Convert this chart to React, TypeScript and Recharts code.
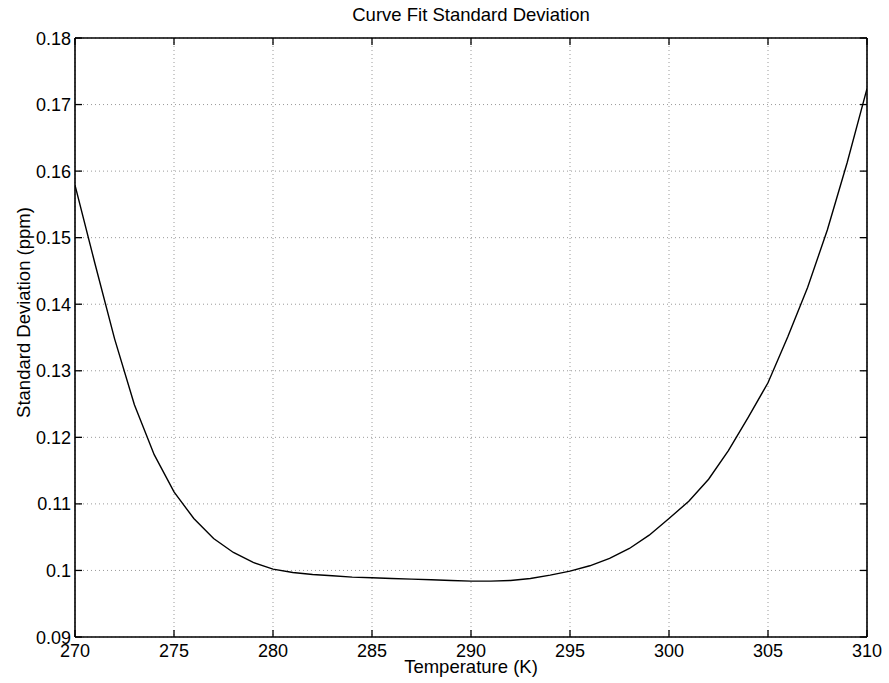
import React from "react";
import { LineChart, Line, XAxis, YAxis, CartesianGrid, ReferenceLine } from "recharts";

const temperatures = [
  270, 271, 272, 273, 274, 275, 276, 277, 278, 279,
  280, 281, 282, 283, 284, 285, 286, 287, 288, 289,
  290, 291, 292, 293, 294, 295, 296, 297, 298, 299,
  300, 301, 302, 303, 304, 305, 306, 307, 308, 309, 310,
];

const stdDev = [
  0.1579, 0.1462, 0.1348, 0.1249, 0.1174, 0.1118, 0.1078, 0.1048, 0.1027, 0.1012,
  0.1002, 0.0997, 0.0994, 0.0992, 0.099, 0.0989, 0.0988, 0.0987, 0.0986, 0.0985,
  0.0984, 0.0984, 0.0985, 0.0988, 0.0993, 0.0999, 0.1007, 0.1018, 0.1033, 0.1053,
  0.1078, 0.1104, 0.1137, 0.118, 0.123, 0.1282, 0.1351, 0.1425, 0.1512, 0.1613, 0.1724,
];

const xTicks = [270, 275, 280, 285, 290, 295, 300, 305, 310];
const xTickLabels = ["270", "275", "280", "285", "290", "295", "300", "305", "310"];
const yTicks = [0.09, 0.1, 0.11, 0.12, 0.13, 0.14, 0.15, 0.16, 0.17, 0.18];
const yTickLabels = ["0.09", "0.1", "0.11", "0.12", "0.13", "0.14", "0.15", "0.16", "0.17", "0.18"];

const title = "Curve Fit Standard Deviation";
const xLabel = "Temperature (K)";
const yLabel = "Standard Deviation (ppm)";

const data = temperatures.map((t, i) => ({ t, sd: stdDev[i] }));

const CHART_W = 889;
const CHART_H = 683;
const MARGIN = { top: 38, right: 22, bottom: 16, left: 15 };
const PLOT_TOP = MARGIN.top;
const PLOT_RIGHT = CHART_W - MARGIN.right;

const FONT = "'Liberation Sans', Arial, Helvetica, sans-serif";
const TICK_LEN = 7;

const LeftTick = (props: any) => {
  const { x, y, payload } = props;
  const ax = x + 4;
  const idx = yTicks.indexOf(payload.value);
  return (
    <g>
      <line x1={ax} y1={y} x2={ax + TICK_LEN} y2={y} stroke="#000" strokeWidth={1.3} />
      <line x1={PLOT_RIGHT} y1={y} x2={PLOT_RIGHT - TICK_LEN} y2={y} stroke="#000" strokeWidth={1.3} />
      <text x={x} y={y} dy={6.5} textAnchor="end" fontSize={18} fontFamily={FONT} fill="#000">
        {idx >= 0 ? yTickLabels[idx] : String(payload.value)}
      </text>
    </g>
  );
};

const BottomTick = (props: any) => {
  const { x, y, payload } = props;
  const ay = y - 2;
  const idx = xTicks.indexOf(payload.value);
  return (
    <g>
      <line x1={x} y1={ay} x2={x} y2={ay - TICK_LEN} stroke="#000" strokeWidth={1.3} />
      <line x1={x} y1={PLOT_TOP} x2={x} y2={PLOT_TOP + TICK_LEN} stroke="#000" strokeWidth={1.3} />
      <text x={x} y={ay + 20} textAnchor="middle" fontSize={18} fontFamily={FONT} fill="#000">
        {idx >= 0 ? xTickLabels[idx] : String(payload.value)}
      </text>
    </g>
  );
};

const XLabel = (props: any) => {
  const vb = props.viewBox;
  return (
    <text x={vb.x + vb.width / 2} y={vb.y + 36} textAnchor="middle" fontSize={18.5} fontFamily={FONT} fill="#000">
      {xLabel}
    </text>
  );
};

const YLabel = (props: any) => {
  const vb = props.viewBox;
  const cx = vb.x + 15;
  const cy = vb.y + vb.height / 2 - 25;
  return (
    <text x={cx} y={cy} transform={`rotate(-90, ${cx}, ${cy})`} textAnchor="middle" fontSize={18.5} fontFamily={FONT} fill="#000">
      {yLabel}
    </text>
  );
};

const TitleLabel = (props: any) => {
  const vb = props.viewBox;
  return (
    <text x={vb.x + vb.width / 2} y={vb.y - 17} textAnchor="middle" fontSize={18.5} fontFamily={FONT} fill="#000">
      {title}
    </text>
  );
};

export default function App() {
  return (
    <div style={{ position: "absolute", left: 0, top: 0, width: CHART_W, height: CHART_H, background: "#fff" }}>
      <LineChart width={CHART_W} height={CHART_H} data={data} margin={MARGIN}>
        <CartesianGrid stroke="#9a9a9a" strokeDasharray="1 3" strokeWidth={1} />
        <XAxis
          dataKey="t"
          type="number"
          domain={[270, 310]}
          ticks={xTicks}
          interval={0}
          height={30}
          tickSize={0}
          tickMargin={2}
          tickLine={false}
          axisLine={{ stroke: "#000", strokeWidth: 1.6 }}
          tick={<BottomTick />}
          label={<XLabel />}
          allowDataOverflow
        />
        <YAxis
          type="number"
          domain={[0.09, 0.18]}
          ticks={yTicks}
          interval={0}
          width={60}
          tickSize={0}
          tickMargin={4}
          tickLine={false}
          axisLine={{ stroke: "#000", strokeWidth: 1.6 }}
          tick={<LeftTick />}
          label={<YLabel />}
          allowDataOverflow
        />
        <ReferenceLine y={0.18} stroke="#000" strokeWidth={1.6} ifOverflow="visible" label={<TitleLabel />} />
        <ReferenceLine x={310} stroke="#000" strokeWidth={1.6} ifOverflow="visible" />
        <Line
          type="linear"
          dataKey="sd"
          stroke="#000"
          strokeWidth={1.4}
          dot={false}
          activeDot={false}
          isAnimationActive={false}
        />
      </LineChart>
    </div>
  );
}
